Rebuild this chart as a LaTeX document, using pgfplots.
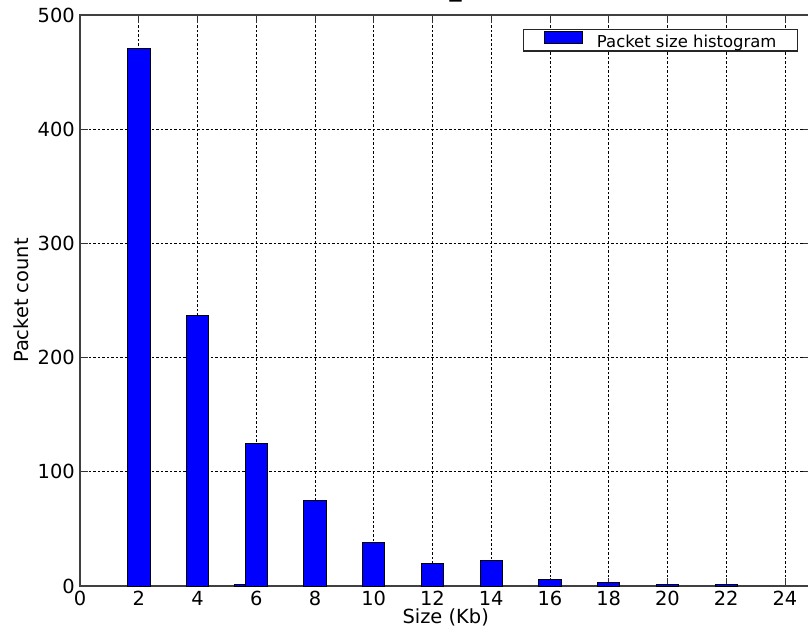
\documentclass[border=0pt]{standalone}
\usepackage{fontspec}
\setmainfont{DejaVu Sans}
\usepackage{pgfplots}
\pgfplotsset{compat=1.18}

% Packet size histogram: bin centre (Kb) and packet count
\pgfplotstableread{
x    y
2    471
4    237
6    125
8    75
10   38
12   20
14   22
16   6
18   3
20   1
22   1
}\sizehist

\begin{document}
\begin{tikzpicture}
\useasboundingbox (-80bp,-47bp) rectangle (728bp,586bp);
\clip (-80bp,-47bp) rectangle (728bp,586bp);
\begin{axis}[
  at={(0,0)}, anchor=south west,
  scale only axis,
  width=731.4bp, height=571bp,
  xmin=0, xmax=24.9, ymin=0, ymax=500,
  xtick={0,2,...,24}, ytick={0,100,...,500},
  /pgf/number format/assume math mode=true,
  tick label style={font=\fontsize{19.5}{22}\selectfont},
  yticklabel style={inner xsep=5bp},
  xticklabel style={inner ysep=5bp},
  tick align=inside,
  major tick length=8bp,
  tick style={black!80, line width=0.8bp},
  axis line style={black!75, line width=1.3bp},
  grid=major,
  major grid style={black, line width=0.7bp, dash pattern=on 2.5bp off 2bp},
  xlabel={Size (Kb)},
  ylabel={Packet count},
  label style={font=\fontsize{19.5}{22}\selectfont},
  x label style={at={(axis description cs:0.5,0)}, anchor=north, yshift=-22.5bp, inner sep=0pt},
  y label style={at={(axis description cs:-0.0807,0.5)}, anchor=center, inner sep=0pt},
  title={\_},
  title style={at={(axis description cs:0.5,1)}, anchor=base, yshift=12.5bp, xshift=10bp,
               font=\fontsize{24}{28}\selectfont},
  legend style={at={(0.9817,0.9755)}, anchor=north east,
                draw=black!85, line width=1.2bp, fill=white,
                font=\fontsize{16.5}{18}\selectfont,
                inner xsep=21bp, inner ysep=1.5bp,
                nodes={inner sep=0bp},
                /tikz/column sep=14bp},
]
% partly hidden neighbour bin left of the 6 Kb bar
\addplot[ybar, bar shift=0pt, bar width=0.76, fill=blue, draw=black, line width=0.8bp, forget plot]
  coordinates {(5.62,1)};
\addplot[ybar, bar shift=0pt, bar width=0.76, fill=blue, draw=black, line width=0.8bp,
  legend image code/.code={\draw[fill=blue, draw=black, line width=0.8bp] (0bp,-0.7bp) rectangle (38bp,11bp);}]
  table[x=x, y=y] {\sizehist};
\addlegendentry{Packet size histogram}
\end{axis}
\end{tikzpicture}
\end{document}
